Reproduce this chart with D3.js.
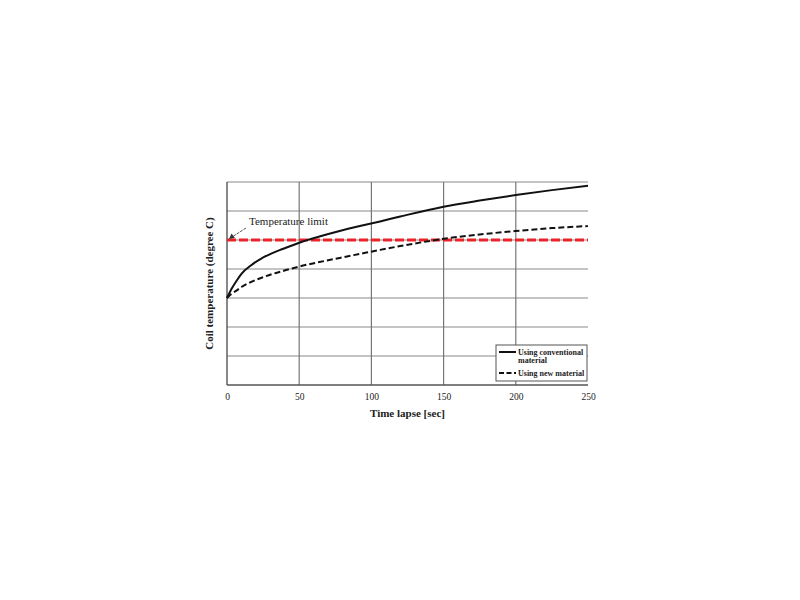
<!DOCTYPE html>
<html><head><meta charset="utf-8">
<script src="https://cdn.jsdelivr.net/npm/d3@7"></script>
<style>body{margin:0;background:#fff}svg{display:block}text{font-family:"Liberation Serif","DejaVu Serif",serif}</style>
</head><body><svg id="c" width="800" height="600"></svg>
<script>
const time = [0, 3, 7, 10, 17, 24, 31, 38, 45, 52, 64, 78, 92, 106, 120, 150, 175, 200, 225, 250];
const conventional = [3.0, 3.30, 3.62, 3.83, 4.14, 4.37, 4.54, 4.68, 4.81, 4.94, 5.12, 5.31, 5.48, 5.64, 5.81, 6.15, 6.36, 6.55, 6.72, 6.87];
const newMaterial = [3.0, 3.14, 3.27, 3.38, 3.56, 3.70, 3.82, 3.92, 4.02, 4.11, 4.24, 4.38, 4.52, 4.66, 4.79, 5.04, 5.19, 5.31, 5.41, 5.48];
const tempLimit = 5.0;
const xTicks = [0, 50, 100, 150, 200, 250];
const yGrid = [1, 2, 3, 4, 5, 6, 7];
const seriesNames = ["Using conventional material", "Using new material"];

const svg = d3.select("#c");
const L = 227, R = 588, T = 182, B = 385;
const x = d3.scaleLinear().domain([0, 250]).range([L, R]);
const y = d3.scaleLinear().domain([0, 7]).range([B, T]);

// grid
svg.append("g").selectAll("line").data(yGrid).join("line")
  .attr("x1", L).attr("x2", R).attr("y1", d => y(d)).attr("y2", d => y(d))
  .attr("stroke", "#8a8a8a").attr("stroke-width", 1.2);
svg.append("g").selectAll("line").data(xTicks.filter(d => d > 0 && d < 250)).join("line")
  .attr("x1", d => x(d)).attr("x2", d => x(d)).attr("y1", T).attr("y2", B)
  .attr("stroke", "#777").attr("stroke-width", 1.2);
// axes frame
svg.append("line").attr("x1", L).attr("x2", L).attr("y1", T).attr("y2", B).attr("stroke", "#555").attr("stroke-width", 1.4);
svg.append("line").attr("x1", L).attr("x2", R).attr("y1", B).attr("y2", B).attr("stroke", "#555").attr("stroke-width", 1.4);

// x tick labels
const xAxis = svg.append("g").attr("transform", `translate(0,${B})`)
  .call(d3.axisBottom(x).tickValues(xTicks).tickSize(0).tickPadding(8));
xAxis.select(".domain").remove();
xAxis.selectAll("text").attr("font-size", 9.5).attr("fill", "#222")
  .attr("font-family", "Liberation Serif, serif");

// axis titles
svg.append("text").attr("x", (L + R) / 2).attr("y", 417).attr("text-anchor", "middle")
  .attr("font-size", 11).attr("font-weight", "bold").attr("fill", "#222").text("Time lapse [sec]");
svg.append("text").attr("transform", `translate(213,${(T + B) / 2}) rotate(-90)`).attr("text-anchor", "middle")
  .attr("font-size", 11).attr("font-weight", "bold").attr("fill", "#222").text("Coil temperature (degree C)");

// temperature limit
svg.append("line").attr("x1", x(0)).attr("x2", x(250)).attr("y1", y(tempLimit)).attr("y2", y(tempLimit))
  .attr("stroke", "#e8242a").attr("stroke-width", 3).attr("stroke-dasharray", "9,3");

const line = d3.line().x((d, i) => x(time[i])).y(d => y(d)).curve(d3.curveMonotoneX);
svg.append("path").attr("d", line(newMaterial)).attr("fill", "none").attr("stroke", "#111")
  .attr("stroke-width", 2).attr("stroke-dasharray", "6,3");
svg.append("path").attr("d", line(conventional)).attr("fill", "none").attr("stroke", "#111")
  .attr("stroke-width", 2);

// annotation
svg.append("text").attr("x", 249).attr("y", 225).attr("font-size", 11).attr("fill", "#222").text("Temperature limit");
svg.append("line").attr("x1", 246).attr("y1", 228).attr("x2", 232).attr("y2", 237)
  .attr("stroke", "#555").attr("stroke-width", 1).attr("stroke-dasharray", "3,1");
svg.append("path").attr("d", "M229,239 L231.5,233.5 L235,238 Z").attr("fill", "#333");

// legend
const lg = svg.append("g");
lg.append("rect").attr("x", 496).attr("y", 345).attr("width", 91).attr("height", 36)
  .attr("fill", "#fff").attr("stroke", "#555").attr("stroke-width", 1);
lg.append("line").attr("x1", 499).attr("x2", 516).attr("y1", 352).attr("y2", 352).attr("stroke", "#111").attr("stroke-width", 2);
lg.append("line").attr("x1", 499).attr("x2", 516).attr("y1", 373).attr("y2", 373).attr("stroke", "#111").attr("stroke-width", 2).attr("stroke-dasharray", "5,2.5");
lg.append("text").attr("x", 518).attr("y", 355).attr("font-size", 8).attr("font-weight", "bold").attr("fill", "#222").text("Using conventional");
lg.append("text").attr("x", 518).attr("y", 363).attr("font-size", 8).attr("font-weight", "bold").attr("fill", "#222").text("material");
lg.append("text").attr("x", 518).attr("y", 376).attr("font-size", 8).attr("font-weight", "bold").attr("fill", "#222").text(seriesNames[1]);
</script></body></html>
